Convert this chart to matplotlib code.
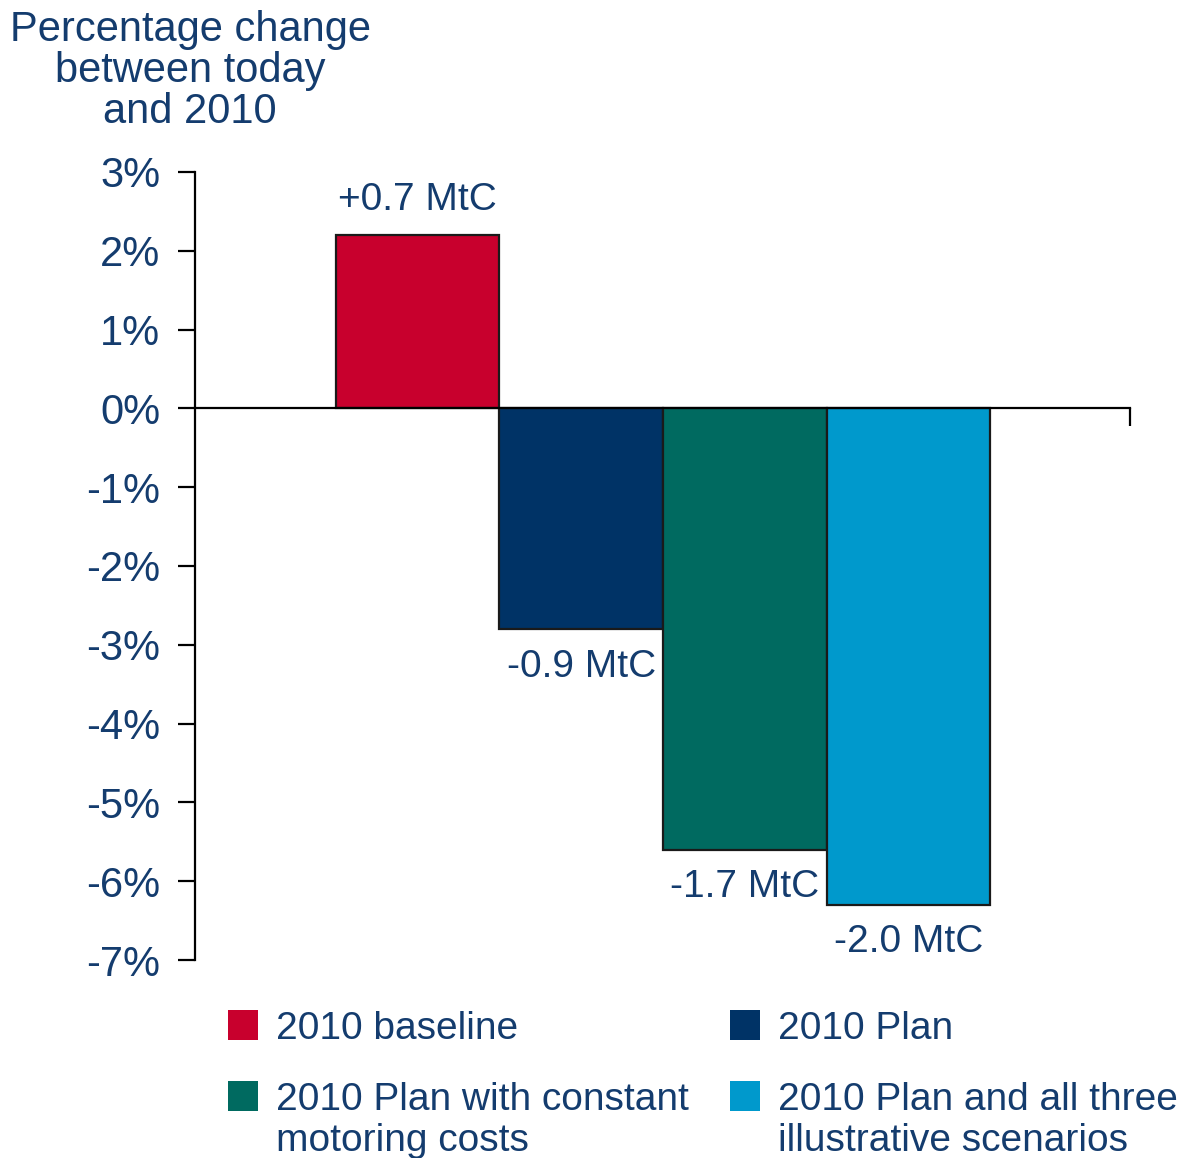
import matplotlib
matplotlib.use("Agg")
import matplotlib.pyplot as plt
from matplotlib.patches import Rectangle

plt.rcParams['font.family'] = ['Liberation Sans', 'DejaVu Sans']

categories = ["2010 baseline", "2010 Plan",
              "2010 Plan with constant\nmotoring costs",
              "2010 Plan and all three\nillustrative scenarios"]
values = [2.2, -2.8, -5.6, -6.3]
labels = ["+0.7 MtC", "-0.9 MtC", "-1.7 MtC", "-2.0 MtC"]
colors = ["#C8002D", "#003366", "#006A60", "#0099CC"]
yticks = [3, 2, 1, 0, -1, -2, -3, -4, -5, -6, -7]

TXT = "#143C6E"
W, H = 1187, 1158
fig = plt.figure(figsize=(W / 100, H / 100), dpi=100)

ax_l, ax_r, ax_t, ax_b = 195, 1130, 172, 960
ax = fig.add_axes([ax_l / W, 1 - ax_b / H, (ax_r - ax_l) / W, (ax_b - ax_t) / H])

x = list(range(len(values)))
ax.bar(x, values, width=1.0, color=colors, edgecolor="#1a1a1a", linewidth=1.6, zorder=3)

xmin, xmax = -1.36, 4.354
ax.set_xlim(xmin, xmax)
ax.set_ylim(-7, 3)

for spine in ["top", "right"]:
    ax.spines[spine].set_visible(False)
ax.spines["bottom"].set_position(("data", 0))
ax.spines["bottom"].set_linewidth(1.6)
ax.spines["left"].set_linewidth(1.6)
ax.spines["bottom"].set_zorder(4)

ax.set_yticks(yticks)
ax.set_yticklabels([f"{t}%" for t in yticks])
ax.tick_params(axis="y", direction="out", length=12, width=1.6, pad=13,
               labelsize=30, labelcolor=TXT)
ax.set_xticks([xmax])
ax.set_xticklabels([""])
ax.tick_params(axis="x", direction="out", length=13, width=1.6)

for xi, v, lab in zip(x, values, labels):
    if v >= 0:
        ax.annotate(lab, (xi, v), xytext=(0, 25), textcoords="offset points",
                    ha="center", va="center", fontsize=28, color=TXT)
    else:
        ax.annotate(lab, (xi, v), xytext=(0, -27), textcoords="offset points",
                    ha="center", va="center", fontsize=28, color=TXT)

fig.text(190 / W, 1 - 71 / H, "Percentage change\nbetween today\nand 2010",
         ha="center", va="center", fontsize=30, color=TXT, linespacing=1.04)

# legend
leg_items = [(228, 1010, 0), (730, 1010, 1), (228, 1081, 2), (730, 1081, 3)]
for px, py, i in leg_items:
    fig.patches.append(Rectangle((px / W, 1 - (py + 30) / H), 30 / W, 30 / H,
                                 transform=fig.transFigure, facecolor=colors[i],
                                 edgecolor="none"))
    fig.text((px + 48) / W, 1 - (py + 1) / H, categories[i], ha="left", va="top",
             fontsize=28, color=TXT, linespacing=1.18)

fig.savefig("out.png", dpi=100, facecolor="white")
